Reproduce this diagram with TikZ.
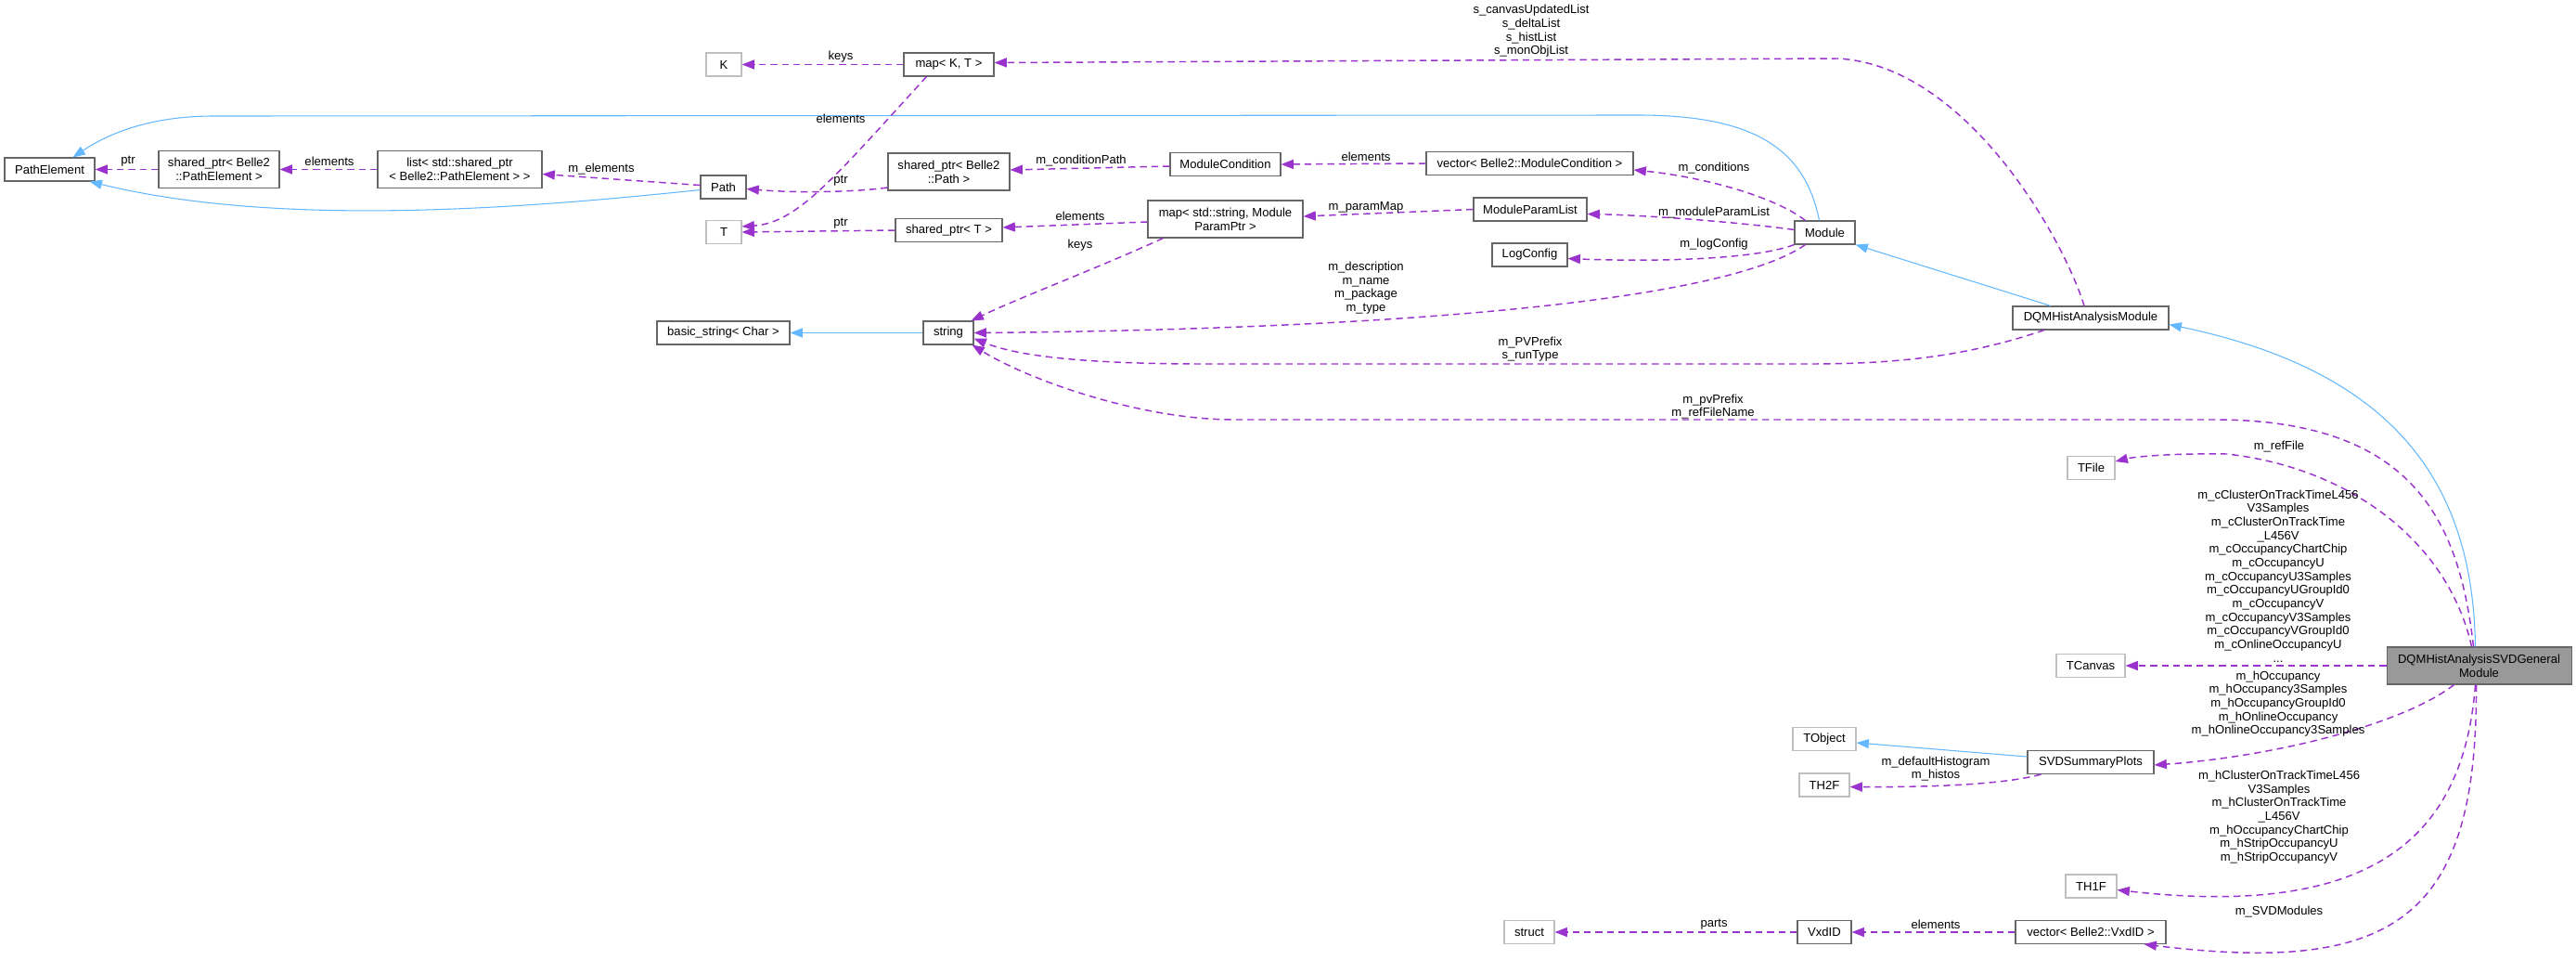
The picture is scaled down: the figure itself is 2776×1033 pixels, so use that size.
\documentclass[tikz,border=0pt]{standalone}
\usepackage{fontspec}
\setmainfont{Liberation Sans}
\usetikzlibrary{arrows.meta,calc}
\definecolor{depc}{HTML}{9A32CD}
\definecolor{inhc}{HTML}{63B8FF}
\definecolor{docg}{HTML}{666666}
\definecolor{extg}{HTML}{BFBFBF}
\definecolor{mainf}{HTML}{999999}
\newcommand\dgfont{\fontsize{9.8pt}{11pt}\selectfont}
\tikzset{
  cls/.style={draw=docg, fill=white, line width=0.8pt, inner sep=0pt, minimum height=18.75pt, align=center, font=\dgfont},
  ext/.style={cls, draw=extg},
  mainnode/.style={cls, fill=mainf},
  wd/.style={minimum width=#1*0.75pt},
  two/.style={minimum height=30pt},
  dep/.style={draw=depc, line width=1.1pt, dash pattern=on 5.5pt off 3.75pt, -{Triangle[length=10pt,width=7.5pt]}},
  inh/.style={draw=inhc, line width=0.8pt, -{Triangle[length=10pt,width=7.5pt]}},
  lbl/.style={inner sep=0pt, align=center, font=\dgfont}
}
\begin{document}
\begin{tikzpicture}[x=0.75pt,y=-0.75pt]
\useasboundingbox (0,0) rectangle (2776,1033);
% nodes
\node[cls,wd=97] (PathElement) at (53.5,182.5) {PathElement};
\node[cls,wd=130,two] (sharedPE) at (236,182.5) {shared\_ptr< Belle2\\::PathElement >};
\node[cls,wd=177,two] (list) at (495.5,182.5) {list< std::shared\_ptr\\< Belle2::PathElement > >};
\node[cls,wd=49] (Path) at (779.5,201.5) {Path};
\node[ext,wd=38] (K) at (780,69.5) {K};
\node[ext,wd=38] (T) at (780,250) {T};
\node[cls,wd=143] (bstr) at (779.5,358.5) {basic\_string< Char >};
\node[cls,wd=97] (mapKT) at (1022.5,69.5) {map< K, T >};
\node[cls,wd=131,two] (sharedPath) at (1022.5,185) {shared\_ptr< Belle2\\::Path >};
\node[cls,wd=115] (sharedT) at (1022.5,248) {shared\_ptr< T >};
\node[cls,wd=54] (string) at (1022,358.5) {string};
\node[cls,wd=119] (MC) at (1320.5,177) {ModuleCondition};
\node[cls,wd=167,two] (mapSP) at (1320.5,236) {map< std::string, Module\\ParamPtr >};
\node[cls,wd=223] (vecMC) at (1648.5,176) {vector< Belle2::ModuleCondition >};
\node[cls,wd=122] (MPL) at (1649,225.5) {ModuleParamList};
\node[cls,wd=81] (LogConfig) at (1648.5,274.5) {LogConfig};
\node[cls,wd=65] (Module) at (1966.5,250.5) {Module};
\node[cls,wd=168] (DQM) at (2253,342.5) {DQMHistAnalysisModule};
\node[ext,wd=51] (TFile) at (2253.5,504) {TFile};
\node[ext,wd=74] (TCanvas) at (2253,717) {TCanvas};
\node[mainnode,wd=199,two] (SVDG) at (2671.5,717) {DQMHistAnalysisSVDGeneral\\Module};
\node[cls,wd=136] (SVDSP) at (2253,821) {SVDSummaryPlots};
\node[ext,wd=55] (TH1F) at (2253.5,954.5) {TH1F};
\node[cls,wd=162] (vecVxd) at (2253,1004) {vector< Belle2::VxdID >};
\node[ext,wd=68] (TObject) at (1966,796) {TObject};
\node[ext,wd=54] (TH2F) at (1966,845.5) {TH2F};
\node[ext,wd=54] (struct) at (1648,1004) {struct};
\node[cls,wd=58] (VxdID) at (1966,1004) {VxdID};
% edges
\draw[dep] (sharedPE.west) -- (PathElement.east);
\draw[dep] (list.west) -- (sharedPE.east);
\draw[dep] ($(Path.west)+(0,-2)$) -- ($(list.east)+(0,5)$);
\draw[inh] ($(Path.west)+(0,3)$) .. controls (560,225) and (300,245) .. ($(PathElement.south east)+(-6,0)$);
\draw[inh] ($(Module.north)+(-6,0)$) .. controls (1945,160) and (1890,123) .. (1760,124) -- (230,125) .. controls (160,125) and (115,145) .. ($(PathElement.north)+(25,0)$);
\draw[dep] (mapKT.west) -- (K.east);
\draw[dep] ($(mapKT.south)+(-24,0)$) .. controls (900,190) and (860,240) .. ($(T.east)+(0,-6)$);
\draw[dep] ($(sharedPath.west)+(0,17)$) .. controls (920,207) and (860,208) .. ($(Path.east)+(0,2)$);
\draw[dep] (sharedT.west) -- (T.east);
\draw[dep] ($(MC.west)+(0,2)$) -- ($(sharedPath.east)+(0,-2)$);
\draw[dep] (vecMC.west) -- (MC.east);
\draw[dep] ($(Module.north west)+(12,0)$) .. controls (1910,210) and (1830,190) .. ($(vecMC.east)+(0,7)$);
\draw[dep] ($(mapSP.west)+(0,3)$) -- ($(sharedT.east)+(0,-3)$);
\draw[dep] ($(mapSP.south west)+(17,0)$) .. controls (1180,290) and (1100,320) .. ($(string.north east)+(-3,0)$);
\draw[dep] (MPL.west) -- ($(mapSP.east)+(0,-3)$);
\draw[dep] ($(Module.west)+(0,-3)$) .. controls (1880,240) and (1780,232) .. ($(MPL.east)+(0,5)$);
\draw[dep] (Module.south west) .. controls (1890,280) and (1780,282) .. ($(LogConfig.east)+(0,4)$);
\draw[dep] ($(Module.south west)+(12,0)$) .. controls (1850,330) and (1450,355) .. (string.east);
\draw[inh] (string.west) -- (bstr.east);
\draw[dep] ($(DQM.north)+(-7,0)$) .. controls (2225,260) and (2120,70) .. (1980,63) -- ($(mapKT.east)+(0,-2)$);
\draw[inh] ($(DQM.north)+(-43,0)$) -- (Module.south east);
\draw[dep] ($(DQM.south)+(-50,0)$) .. controls (2130,380) and (2060,392) .. (1950,392) -- (1300,392) .. controls (1180,392) and (1100,385) .. ($(string.east)+(0,6)$);
\draw[inh] ($(SVDG.north)+(-4,0)$) .. controls (2665,520) and (2580,400) .. ($(DQM.east)+(0,7)$);
\draw[dep] ($(SVDG.north)+(-6,0)$) .. controls (2650,560) and (2600,450) .. (2380,452) -- (1330,452) .. controls (1230,452) and (1110,410) .. ($(string.south east)+(-2,0)$);
\draw[dep] ($(SVDG.north)+(-8,0)$) .. controls (2640,590) and (2540,505) .. (2400,489) .. controls (2340,488) and (2300,492) .. ($(TFile.east)+(0,-7)$);
\draw[dep] (SVDG.west) -- (TCanvas.east);
\draw[dep] ($(SVDG.south)+(-27,0)$) .. controls (2590,780) and (2450,815) .. ($(SVDSP.east)+(0,3)$);
\draw[inh] ($(SVDSP.west)+(0,-6)$) -- ($(TObject.east)+(0,4)$);
\draw[dep] ($(SVDSP.south west)+(15,0)$) .. controls (2160,845) and (2080,848) .. ($(TH2F.east)+(0,2)$);
\draw[dep] ($(SVDG.south)+(-4,0)$) .. controls (2655,900) and (2560,990) .. ($(TH1F.east)+(0,4)$);
\draw[dep] ($(SVDG.south)+(-3,0)$) .. controls (2670,990) and (2580,1050) .. ($(vecVxd.south east)+(-24,0)$);
\draw[dep] (vecVxd.west) -- (VxdID.east);
\draw[dep] (VxdID.west) -- (struct.east);
% labels
\node[lbl] (l01) at (138,174) {ptr};
\node[lbl] (l02) at (355,174) {elements};
\node[lbl] (l03) at (648,182) {m\_elements};
\node[lbl] (l04) at (906,61) {keys};
\node[lbl] (l05) at (906,128) {elements};
\node[lbl] (l06) at (906,195) {ptr};
\node[lbl] (l07) at (906,241) {ptr};
\node[lbl] (l08) at (1165,173) {m\_conditionPath};
\node[lbl] (l09) at (1472,169) {elements};
\node[lbl] (l10) at (1847,181) {m\_conditions};
\node[lbl] (l11) at (1164,233) {elements};
\node[lbl] (l12) at (1164,264) {keys};
\node[lbl] (l13) at (1472,223) {m\_paramMap};
\node[lbl] (l14) at (1847,229) {m\_moduleParamList};
\node[lbl] (l15) at (1847,263) {m\_logConfig};
\node[lbl] (l16) at (1472,310) {m\_description\\m\_name\\m\_package\\m\_type};
\node[lbl] (l17) at (1650,33.5) {s\_canvasUpdatedList\\s\_deltaList\\s\_histList\\s\_monObjList};
\node[lbl] (l18) at (1649,376) {m\_PVPrefix\\s\_runType};
\node[lbl] (l19) at (1846,438) {m\_pvPrefix\\m\_refFileName};
\node[lbl] (l20) at (2456,481) {m\_refFile};
\node[lbl] (l21) at (2455,620.5) {m\_cClusterOnTrackTimeL456\\V3Samples\\m\_cClusterOnTrackTime\\\_L456V\\m\_cOccupancyChartChip\\m\_cOccupancyU\\m\_cOccupancyU3Samples\\m\_cOccupancyUGroupId0\\m\_cOccupancyV\\m\_cOccupancyV3Samples\\m\_cOccupancyVGroupId0\\m\_cOnlineOccupancyU\\...};
\node[lbl] (l22) at (2455,758) {m\_hOccupancy\\m\_hOccupancy3Samples\\m\_hOccupancyGroupId0\\m\_hOnlineOccupancy\\m\_hOnlineOccupancy3Samples};
\node[lbl] (l23) at (2456,880) {m\_hClusterOnTrackTimeL456\\V3Samples\\m\_hClusterOnTrackTime\\\_L456V\\m\_hOccupancyChartChip\\m\_hStripOccupancyU\\m\_hStripOccupancyV};
\node[lbl] (l24) at (2456,982) {m\_SVDModules};
\node[lbl] (l25) at (2086,828) {m\_defaultHistogram\\m\_histos};
\node[lbl] (l26) at (2086,996) {elements};
\node[lbl] (l27) at (1847,996) {parts};
\end{tikzpicture}
\end{document}
